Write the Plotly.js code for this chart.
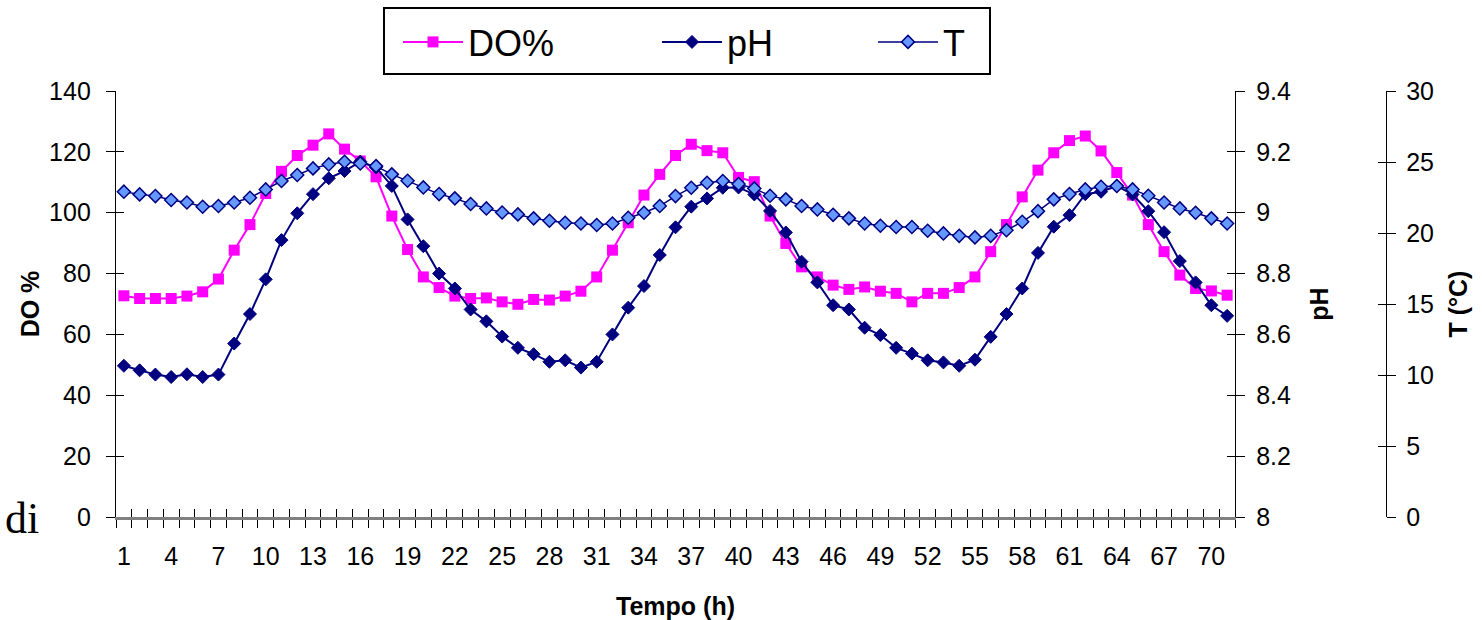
<!DOCTYPE html>
<html>
<head>
<meta charset="utf-8">
<script src="https://cdn.plot.ly/plotly-3.0.1.min.js"></script>
<style>html,body{margin:0;padding:0;background:#fff;}#chart{width:1482px;height:620px;}</style>
</head>
<body>
<div id="chart"></div>
<script>
// Hours (categories)
const hours = Array.from({length: 71}, (_, i) => i + 1);

const doPct = [72.7, 71.8, 71.8, 71.8, 72.6, 74.0, 78.2, 87.7, 96.1, 106.3,
  113.6, 118.8, 122.2, 125.9, 120.9, 117.0, 111.8, 98.9, 87.9, 78.9,
  75.4, 72.6, 71.8, 72.0, 70.7, 69.9, 71.5, 71.3, 72.6, 74.2,
  78.9, 87.7, 96.7, 105.8, 112.6, 118.8, 122.5, 120.4, 119.7, 111.6,
  110.2, 98.9, 89.9, 82.2, 78.9, 76.2, 74.8, 75.6, 74.2, 73.5,
  70.7, 73.5, 73.5, 75.4, 78.9, 87.2, 96.1, 105.2, 114.0, 119.7,
  123.7, 125.2, 120.3, 113.2, 105.8, 96.1, 87.2, 79.5, 75.1, 74.3,
  72.9];

const pH = [8.497, 8.482, 8.468, 8.460, 8.469, 8.460, 8.468, 8.570, 8.667, 8.781,
  8.910, 8.998, 9.061, 9.113, 9.137, 9.168, 9.149, 9.088, 8.978, 8.890,
  8.800, 8.751, 8.682, 8.643, 8.593, 8.556, 8.535, 8.510, 8.515, 8.491,
  8.510, 8.600, 8.688, 8.759, 8.861, 8.952, 9.020, 9.047, 9.082, 9.083,
  9.060, 9.006, 8.935, 8.839, 8.771, 8.696, 8.682, 8.622, 8.598, 8.556,
  8.537, 8.515, 8.508, 8.497, 8.517, 8.592, 8.667, 8.751, 8.868, 8.954,
  8.992, 9.061, 9.069, 9.088, 9.060, 9.005, 8.936, 8.841, 8.771, 8.696,
  8.661];

const tempC = [22.91, 22.72, 22.60, 22.32, 22.15, 21.85, 21.90, 22.15, 22.48, 23.07,
  23.66, 24.08, 24.55, 24.83, 25.02, 24.90, 24.71, 24.13, 23.68, 23.21,
  22.74, 22.44, 22.04, 21.73, 21.44, 21.31, 21.03, 20.86, 20.72, 20.67,
  20.56, 20.67, 21.07, 21.43, 21.90, 22.60, 23.19, 23.54, 23.66, 23.45,
  23.14, 22.62, 22.37, 21.90, 21.66, 21.28, 21.03, 20.67, 20.51, 20.42,
  20.42, 20.16, 19.97, 19.80, 19.69, 19.80, 20.20, 20.79, 21.54, 22.37,
  22.74, 23.07, 23.26, 23.31, 23.07, 22.62, 22.15, 21.73, 21.43, 21.03,
  20.67];

const seriesNames = ["DO%", "pH", "T"];
const axisTitles = {x: "Tempo (h)", do: "DO %", ph: "pH", t: "T (°C)"};

const FONT = "Liberation Sans, Arial, sans-serif";
const tickFont = {family: FONT, size: 25, color: "#000"};
const titleFont = {family: FONT, size: 25, color: "#000", weight: 700};

// pixel geometry helpers (paper fractions)
const L = 116, R = 60, T = 91, B = 103, W = 1482, H = 620;
const pw = W - L - R, ph = H - T - B;
const px = v => (v - L) / pw;
const py = v => (H - B - v) / ph;

const xMin = hours[0] - 0.5, xMax = hours[hours.length - 1] + 0.5;

const traces = [
  {x: hours, y: doPct, name: seriesNames[0], type: "scatter", mode: "lines+markers",
   line: {color: "#FF00FF", width: 2}, marker: {symbol: "square", size: 11, color: "#FF00FF"},
   xaxis: "x", yaxis: "y", legend: "legend"},
  {x: hours, y: tempC, name: seriesNames[2], type: "scatter", mode: "lines+markers",
   line: {color: "#000080", width: 1.5},
   marker: {symbol: "diamond", size: 10, color: "#6699FF", line: {color: "#000080", width: 1.5}},
   xaxis: "x", yaxis: "y3", legend: "legend3"},
  {x: hours, y: pH, name: seriesNames[1], type: "scatter", mode: "lines+markers",
   line: {color: "#000080", width: 2},
   marker: {symbol: "diamond", size: 10, color: "#000080", line: {color: "#000080", width: 1}},
   xaxis: "x", yaxis: "y2", legend: "legend2"},
  // empty helper traces so the inner half of the crossing tick marks is drawn
  {x: [], y: [], xaxis: "x2", yaxis: "y4", type: "scatter", mode: "markers", showlegend: false, hoverinfo: "skip"},
  {x: [], y: [], xaxis: "x", yaxis: "y5", type: "scatter", mode: "markers", showlegend: false, hoverinfo: "skip"},
  {x: [], y: [], xaxis: "x", yaxis: "y6", type: "scatter", mode: "markers", showlegend: false, hoverinfo: "skip"}
];

const domEnd = px(1235);
const tPos = px(1386);

const baseY = {showgrid: false, zeroline: false, showline: true, linecolor: "#000", linewidth: 1.2,
  ticks: "outside", ticklen: 9, tickcolor: "#000", tickwidth: 1, tickfont: tickFont, fixedrange: true};
const crossY = {showgrid: false, zeroline: false, showline: false, ticks: "inside", ticklen: 8,
  tickcolor: "#000", tickwidth: 1, showticklabels: false, fixedrange: true};

const legendBase = {orientation: "h", bgcolor: "rgba(0,0,0,0)", borderwidth: 0,
  font: {family: FONT, size: 36, color: "#000"}, yanchor: "middle", y: py(42),
  xanchor: "left", itemwidth: 60};

const layout = {
  width: W, height: H,
  margin: {l: L, r: R, t: T, b: B},
  paper_bgcolor: "#fff", plot_bgcolor: "#fff",
  showlegend: true,
  xaxis: {domain: [0, domEnd], range: [xMin, xMax], tickmode: "linear", tick0: 1, dtick: 3,
    ticks: "", showgrid: false, zeroline: false, showline: true, linecolor: "#808080", linewidth: 2.5,
    tickfont: tickFont, ticklabelstandoff: 15,
    minor: {ticks: "outside", ticklen: 8, tick0: xMin, dtick: 1, tickcolor: "#000", tickwidth: 1, showgrid: false},
    title: {text: axisTitles.x, font: titleFont, standoff: 42}, fixedrange: true},
  xaxis2: {overlaying: "x", anchor: "y4", domain: [0, domEnd], range: [xMin, xMax], tickmode: "linear",
    tick0: xMin, dtick: 1, ticks: "inside", ticklen: 8, tickcolor: "#000", tickwidth: 1, side: "bottom",
    showticklabels: false, showgrid: false, zeroline: false, showline: false, fixedrange: true},
  yaxis: Object.assign({}, baseY, {range: [0, 140], dtick: 20, tick0: 0, side: "left", anchor: "x",
    ticklabelstandoff: 10, title: {text: axisTitles.do, font: titleFont, standoff: 2}}),
  yaxis2: Object.assign({}, baseY, {range: [8, 9.4], dtick: 0.2, tick0: 8, side: "right", anchor: "x",
    overlaying: "y", ticklabelstandoff: 6, title: {text: axisTitles.ph, font: titleFont, standoff: 20}}),
  yaxis3: Object.assign({}, baseY, {range: [0, 30], dtick: 5, tick0: 0, side: "right", anchor: "free",
    position: tPos, overlaying: "y", ticklabelstandoff: 5, title: {text: axisTitles.t, font: titleFont, standoff: 16}}),
  yaxis4: Object.assign({}, crossY, {range: [0, 140], dtick: 20, tick0: 0, side: "left", anchor: "x", overlaying: "y"}),
  yaxis5: Object.assign({}, crossY, {range: [8, 9.4], dtick: 0.2, tick0: 8, side: "right", anchor: "x", overlaying: "y"}),
  yaxis6: Object.assign({}, crossY, {range: [0, 30], dtick: 5, tick0: 0, side: "right", anchor: "free", position: tPos, overlaying: "y"}),
  legend: Object.assign({}, legendBase, {x: px(398)}),
  legend2: Object.assign({}, legendBase, {x: px(657)}),
  legend3: Object.assign({}, legendBase, {x: px(873)}),
  shapes: [
    {type: "rect", xref: "paper", yref: "paper", x0: px(384), x1: px(990), y0: py(74), y1: py(8),
     line: {color: "#000", width: 2}, fillcolor: "rgba(0,0,0,0)", layer: "below"}
  ],
  annotations: [
    {text: "di", xref: "paper", yref: "paper", x: px(40), y: py(518), xanchor: "right", yanchor: "middle",
     borderpad: 0, showarrow: false, font: {family: "Liberation Serif, Times New Roman, serif", size: 44, color: "#000"}}
  ]
};

Plotly.newPlot("chart", traces, layout, {displayModeBar: false, staticPlot: true});
</script>
</body>
</html>
